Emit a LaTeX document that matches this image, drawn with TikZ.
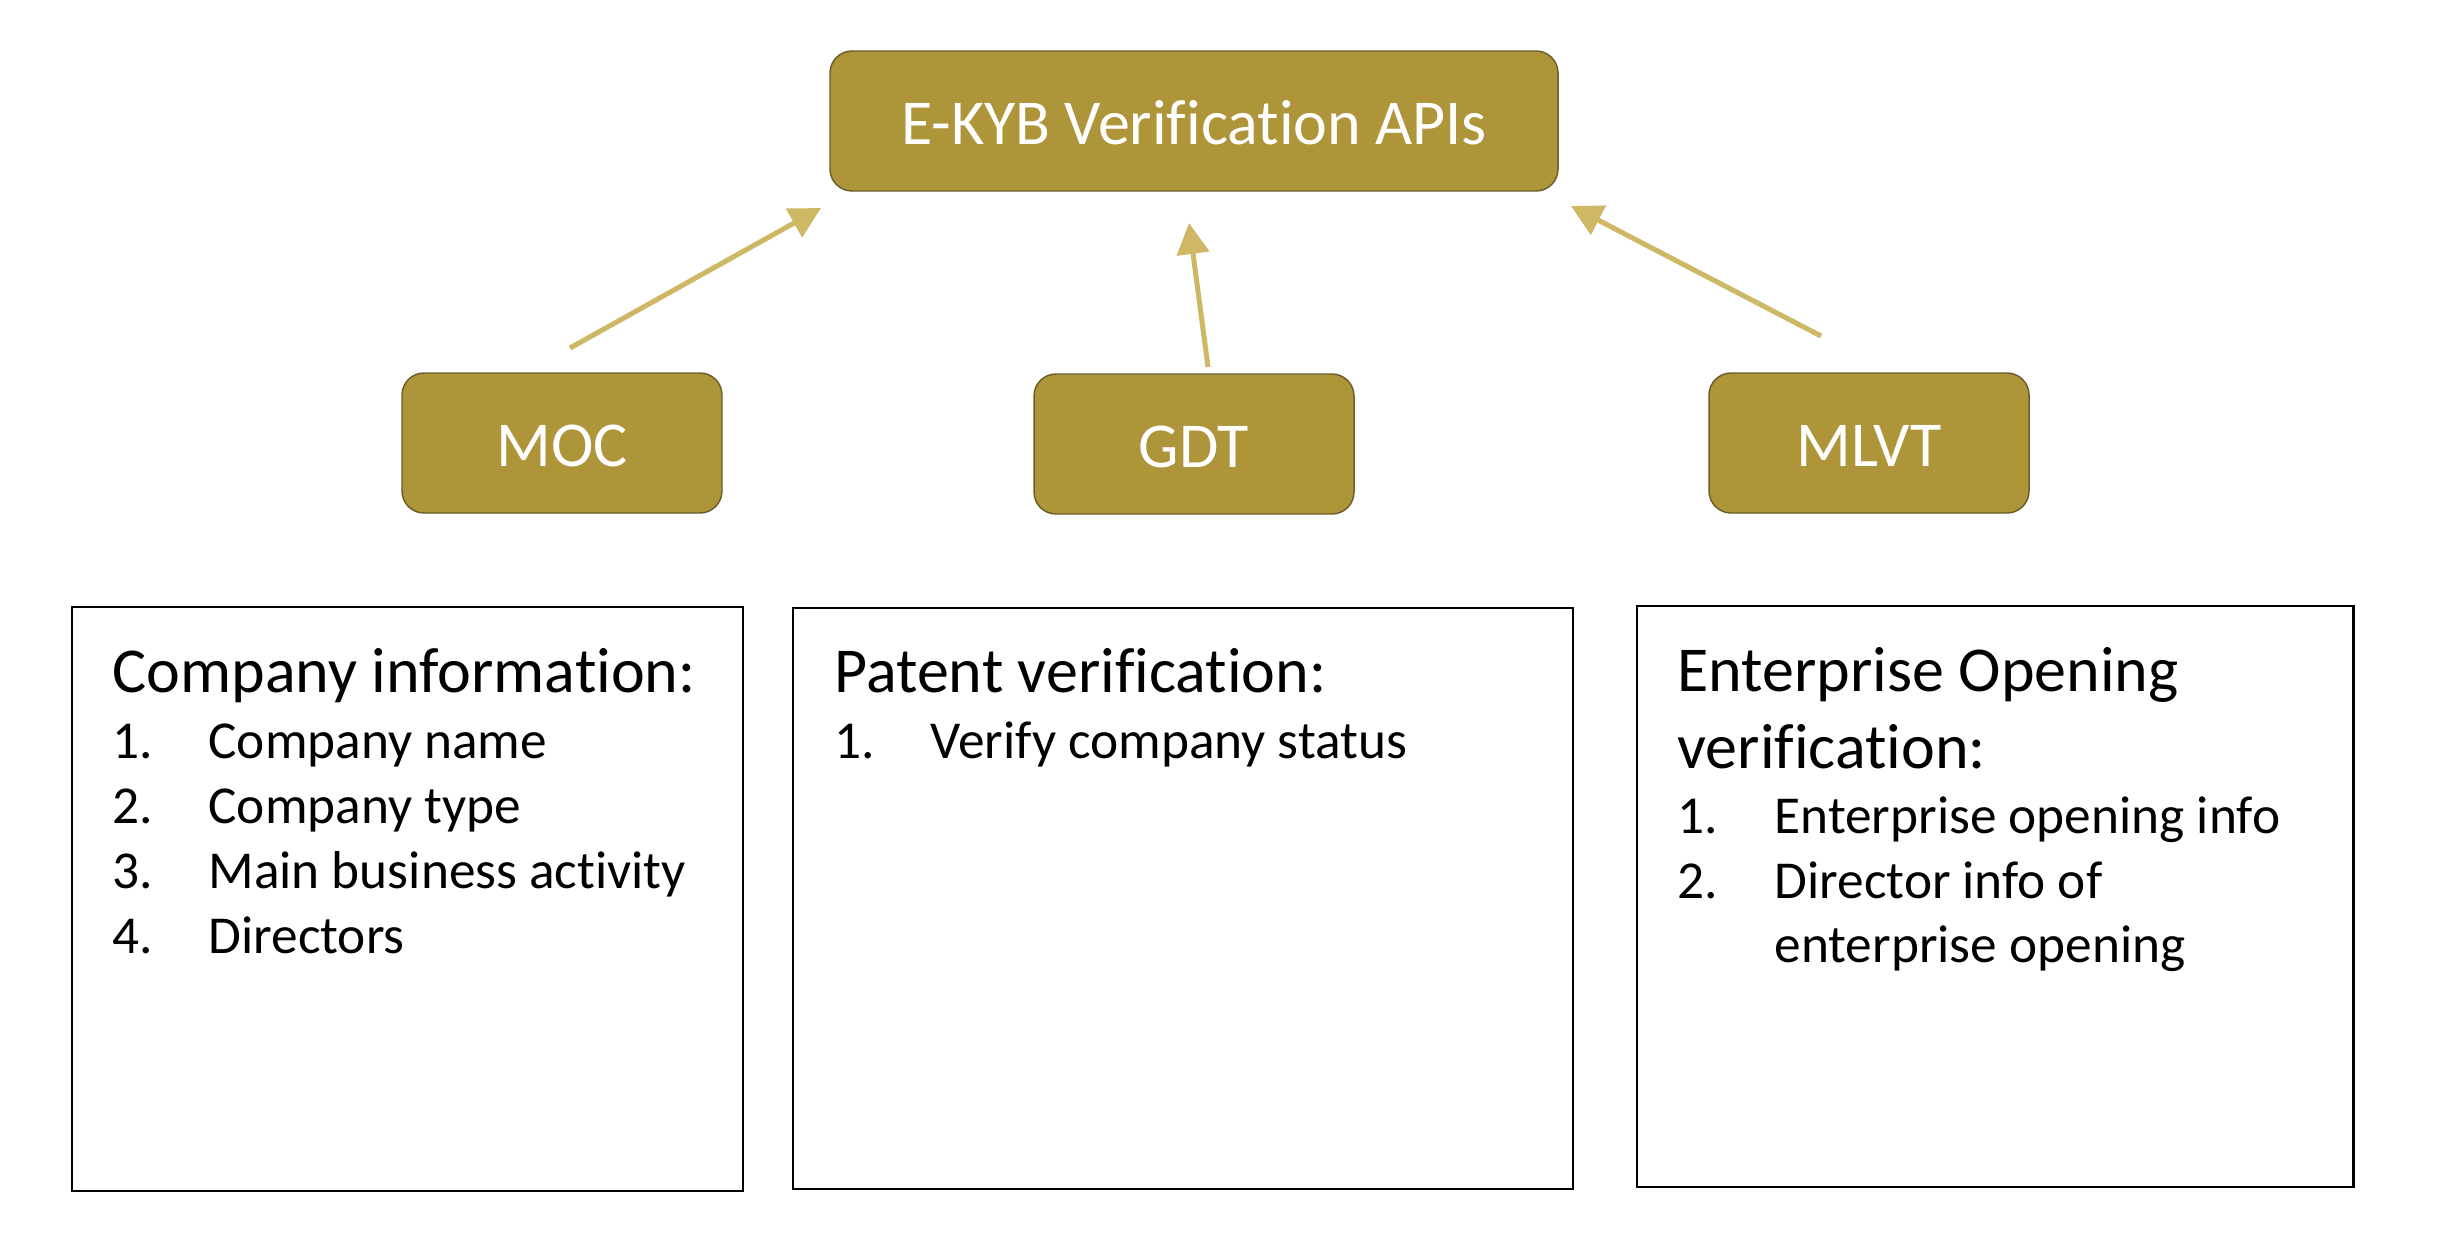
\documentclass[tikz,border=0pt]{standalone}
\usepackage{fontspec}
\setmainfont{Carlito}[Ligatures=NoCommon]
\usetikzlibrary{arrows.meta}
\definecolor{boxgold}{RGB}{175,149,58}
\definecolor{boxedge}{RGB}{108,94,44}
\definecolor{arrgold}{RGB}{206,184,102}
\begin{document}
\begin{tikzpicture}[x=0.375pt,y=-0.375pt,
  apibox/.style={draw=boxedge, line width=0.55pt, fill=boxgold, rounded corners=8.25pt,
    text=white, font=\fontsize{24}{29}\selectfont, inner sep=0pt,
    text height=17.6pt, text depth=0pt},
  infobox/.style={draw=black, line width=1.1pt, inner sep=0pt},
  link/.style={draw=arrgold, line width=1.9pt, -{Triangle[length=11.6pt,width=12pt]}},
  head/.style={anchor=base west, inner sep=0pt, font=\fontsize{24}{29}\selectfont},
  itemtxt/.style={anchor=base west, inner sep=0pt, font=\fontsize{20}{24}\selectfont}]
\useasboundingbox (0,0) rectangle (2452,1233);

% top and API boxes
\node[apibox, minimum width=273pt, minimum height=52.5pt] (api) at (1194,121) {E-KYB Verification APIs};
\node[apibox, minimum width=120pt, minimum height=52.5pt] (moc) at (562,443) {MOC};
\node[apibox, minimum width=120pt, minimum height=52.5pt] (gdt) at (1194,444) {GDT};
\node[apibox, minimum width=120pt, minimum height=52.5pt] (mlvt) at (1869,443) {MLVT};

% arrows
\coordinate (mocA) at (570,348);
\coordinate (mocB) at (821,208);
\coordinate (gdtA) at (1208,367);
\coordinate (gdtB) at (1189,223);
\coordinate (mlvtA) at (1821,336);
\coordinate (mlvtB) at (1571,206);
\draw[link] (mocA) -- (mocB);
\draw[link] (gdtA) -- (gdtB);
\draw[link] (mlvtA) -- (mlvtB);

% info boxes
\node[infobox, minimum width=251.625pt, minimum height=219pt] (info1) at (407.5,899) {};
\node[infobox, minimum width=292.5pt, minimum height=217.875pt] (info2) at (1183,898.5) {};
\node[infobox, minimum width=268.5pt, minimum height=217.875pt] (info3) at (1995,896.5) {};

% left box text
\node[head] (h1) at (112,692) {Company information:};
\node[itemtxt] (n11) at (112,758) {1.};
\node[itemtxt] (t11) at (208,758) {Company name};
\node[itemtxt] (n12) at (112,823) {2.};
\node[itemtxt] (t12) at (208,823) {Company type};
\node[itemtxt] (n13) at (112,888) {3.};
\node[itemtxt] (t13) at (208,888) {Main business activity};
\node[itemtxt] (n14) at (112,953) {4.};
\node[itemtxt] (t14) at (208,953) {Directors};

% middle box text
\node[head] (h2) at (834,692) {Patent verification:};
\node[itemtxt] (n21) at (834,758) {1.};
\node[itemtxt] (t21) at (930,758) {Verify company status};

% right box text
\node[head] (h3a) at (1677,691) {Enterprise Opening};
\node[head] (h3b) at (1677,768) {verification:};
\node[itemtxt] (n31) at (1677,833) {1.};
\node[itemtxt] (t31) at (1774,833) {Enterprise opening info};
\node[itemtxt] (n32) at (1677,898) {2.};
\node[itemtxt] (t32) at (1774,898) {Director info of};
\node[itemtxt] (t33) at (1774,962) {enterprise opening};
\end{tikzpicture}
\end{document}
